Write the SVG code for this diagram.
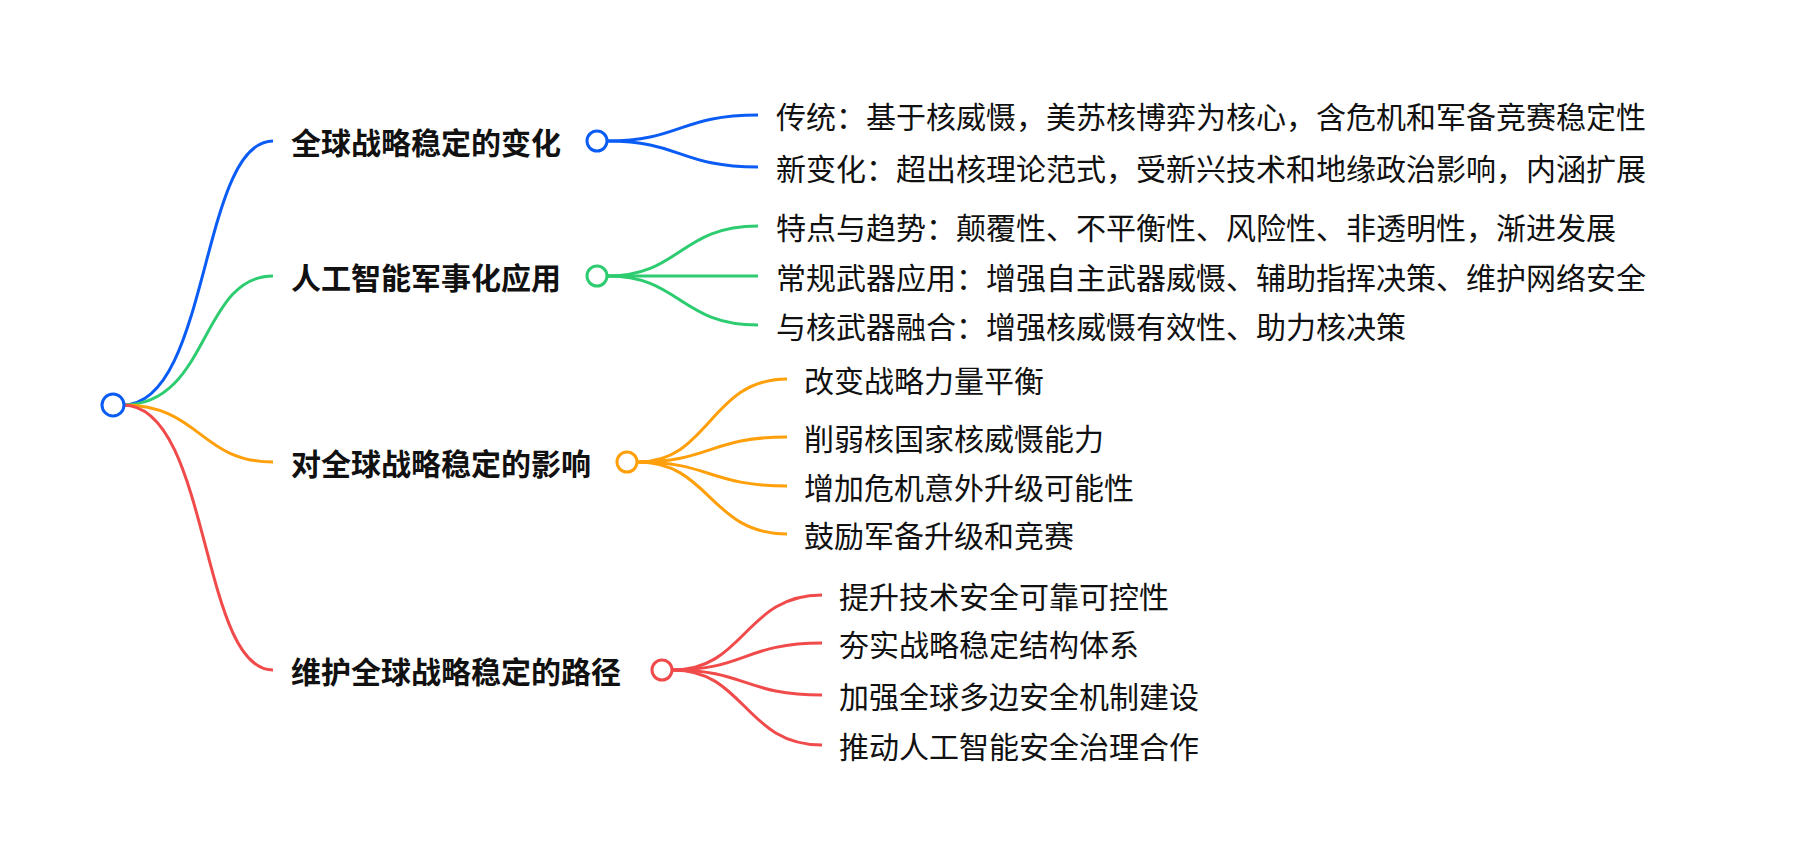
<svg xmlns="http://www.w3.org/2000/svg" width="1802" height="860" viewBox="0 0 1802 860">
<style>
text{font-family:"Noto Sans CJK SC","Noto Sans",sans-serif;font-size:30px;fill:#111;dominant-baseline:central}
.b{font-weight:700}
path{fill:none;stroke-width:3}
circle{fill:#fff;stroke-width:3}
.c1{stroke:#0a5cf5}.c2{stroke:#2ecc71}.c3{stroke:#ff9f0a}.c4{stroke:#f04a4a}
</style>
<rect width="1802" height="860" fill="#fff"/>
<g id="connectors">
<path class="c1" d="M123,405 C210,405 200,141 273,141"/>
<path class="c2" d="M123,405 C210,405 200,276 273,276"/>
<path class="c3" d="M123,405 C200,405 200,462 273,462"/>
<path class="c4" d="M123,405 C210,405 200,670 273,670"/>
<path class="c1" d="M608,141 C680,141 680,115 758,115"/>
<path class="c1" d="M608,141 C680,141 680,167 758,167"/>
<path class="c2" d="M608,276 C680,276 680,226 758,226"/>
<path class="c2" d="M608,276 L758,276"/>
<path class="c2" d="M608,276 C680,276 680,325 758,325"/>
<path class="c3" d="M638,462 C710,462 710,379 787,379"/>
<path class="c3" d="M638,462 C710,462 710,437 787,437"/>
<path class="c3" d="M638,462 C710,462 710,486 787,486"/>
<path class="c3" d="M638,462 C710,462 710,534 787,534"/>
<path class="c4" d="M673,670 C745,670 745,595 822,595"/>
<path class="c4" d="M673,670 C745,670 745,643 822,643"/>
<path class="c4" d="M673,670 C745,670 745,695 822,695"/>
<path class="c4" d="M673,670 C745,670 745,745 822,745"/>
</g>
<g id="root"><circle class="c1" cx="113" cy="405" r="11"/></g>
<g id="b1"><text class="b" x="291" y="141">全球战略稳定的变化</text><circle class="c1" cx="597" cy="141" r="10"/></g>
<g id="b2"><text class="b" x="291" y="276">人工智能军事化应用</text><circle class="c2" cx="597" cy="276" r="10"/></g>
<g id="b3"><text class="b" x="291" y="462">对全球战略稳定的影响</text><circle class="c3" cx="627" cy="462" r="10"/></g>
<g id="b4"><text class="b" x="291" y="670">维护全球战略稳定的路径</text><circle class="c4" cx="662" cy="670" r="10"/></g>
<g id="n1a"><text x="776" y="115">传统：基于核威慑，美苏核博弈为核心，含危机和军备竞赛稳定性</text></g>
<g id="n1b"><text x="776" y="167">新变化：超出核理论范式，受新兴技术和地缘政治影响，内涵扩展</text></g>
<g id="n2a"><text x="776" y="226">特点与趋势：颠覆性、不平衡性、风险性、非透明性，渐进发展</text></g>
<g id="n2b"><text x="776" y="276">常规武器应用：增强自主武器威慑、辅助指挥决策、维护网络安全</text></g>
<g id="n2c"><text x="776" y="325">与核武器融合：增强核威慑有效性、助力核决策</text></g>
<g id="n3a"><text x="804" y="379">改变战略力量平衡</text></g>
<g id="n3b"><text x="804" y="437">削弱核国家核威慑能力</text></g>
<g id="n3c"><text x="804" y="486">增加危机意外升级可能性</text></g>
<g id="n3d"><text x="804" y="534">鼓励军备升级和竞赛</text></g>
<g id="n4a"><text x="839" y="595">提升技术安全可靠可控性</text></g>
<g id="n4b"><text x="839" y="643">夯实战略稳定结构体系</text></g>
<g id="n4c"><text x="839" y="695">加强全球多边安全机制建设</text></g>
<g id="n4d"><text x="839" y="745">推动人工智能安全治理合作</text></g>
</svg>
